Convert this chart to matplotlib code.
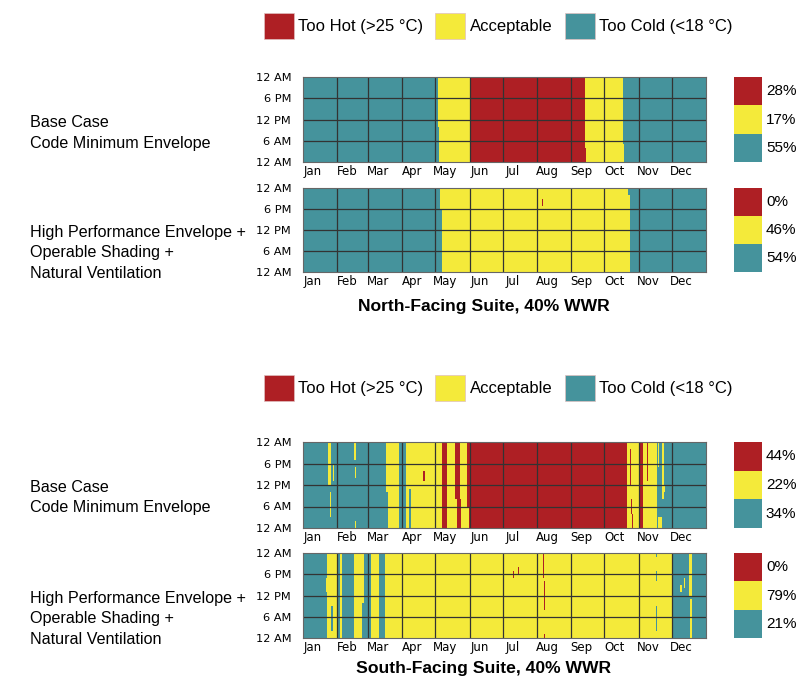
import numpy as np
import matplotlib.pyplot as plt
from matplotlib.colors import ListedColormap
from matplotlib.patches import Patch

W, H = 804, 681

categories = ['Too Hot (>25 °C)', 'Acceptable', 'Too Cold (<18 °C)']
colors = ['#ae1f24', '#f4ea3a', '#45939c']
HOT, OK, COLD = 0, 1, 2

months = ['Jan', 'Feb', 'Mar', 'Apr', 'May', 'Jun',
          'Jul', 'Aug', 'Sep', 'Oct', 'Nov', 'Dec']
month_start = [0, 31, 59, 90, 120, 151, 181, 212, 243, 273, 304, 334]
hour_ticks = [0, 6, 12, 18, 24]
hour_labels = ['12 AM', '6 AM', '12 PM', '6 PM', '12 AM']

# day runs over the whole day: (first day, end day, category)
# spots: (first day, end day, first hour, end hour, category)
north_base_runs = [(0, 122, COLD), (122, 151, OK), (151, 255, HOT),
                   (255, 289, OK), (289, 365, COLD)]
north_base_spots = [(122, 123, 0, 10, COLD), (151, 152, 0, 11, OK),
                    (255, 256, 0, 4, HOT), (289, 290, 0, 5, OK)]
north_base_pct = [28, 17, 55]

north_hp_runs = [(0, 124, COLD), (124, 295, OK), (295, 365, COLD)]
north_hp_spots = [(124, 126, 0, 18, COLD), (294, 295, 22, 24, COLD),
                  (216, 217, 19, 21, HOT)]
north_hp_pct = [0, 46, 54]

south_base_runs = [(0, 23, COLD), (23, 25, COLD), (25, 75, COLD),
                   (75, 87, OK), (87, 93, COLD), (93, 126, OK),
                   (126, 130, HOT), (130, 137, OK), (137, 142, HOT),
                   (142, 148, OK), (148, 293, HOT), (293, 304, OK),
                   (304, 307, HOT), (307, 320, OK), (320, 365, COLD)]
south_base_spots = [(23, 25, 12, 24, OK), (24, 25, 3, 10, OK),
                    (27, 28, 13, 18, OK), (46, 48, 19, 24, OK),
                    (47, 48, 14, 17, OK), (47, 48, 0, 2, OK),
                    (75, 77, 0, 10, COLD), (96, 98, 0, 11, COLD),
                    (108, 110, 13, 16, HOT), (139, 143, 0, 8, HOT),
                    (137, 139, 0, 8, OK), (148, 150, 0, 6, OK),
                    (295, 296, 12, 22, HOT), (296, 297, 4, 8, HOT),
                    (297, 298, 0, 4, HOT), (311, 312, 13, 24, HOT),
                    (321, 322, 17, 24, OK), (324, 326, 8, 24, OK),
                    (326, 327, 10, 12, OK), (321, 324, 0, 3, OK)]
south_base_pct = [44, 22, 34]

south_hp_runs = [(0, 22, COLD), (22, 31, OK), (31, 33, COLD),
                 (33, 35, OK), (35, 46, COLD), (46, 55, OK),
                 (55, 61, COLD), (61, 69, OK), (69, 74, COLD),
                 (74, 334, OK), (334, 365, COLD)]
south_hp_spots = [(21, 22, 13, 17, OK), (25, 27, 2, 9, COLD),
                  (53, 55, 0, 10, COLD), (190, 191, 17, 19, HOT),
                  (194, 195, 18, 20, HOT), (217, 218, 17, 24, HOT),
                  (218, 219, 8, 16, HOT), (218, 219, 0, 1, HOT),
                  (319, 320, 23, 24, COLD), (319, 320, 16, 19, COLD),
                  (319, 320, 2, 9, COLD), (349, 351, 12, 24, OK),
                  (350, 351, 0, 11, OK), (341, 342, 13, 15, OK),
                  (344, 345, 14, 17, OK)]
south_hp_pct = [0, 79, 21]

label_base = 'Base Case\nCode Minimum Envelope'
label_hp = 'High Performance Envelope +\nOperable Shading +\nNatural Ventilation'
title_north = 'North-Facing Suite, 40% WWR'
title_south = 'South-Facing Suite, 40% WWR'

plt.rcParams['font.family'] = ['Liberation Sans', 'DejaVu Sans']
cmap = ListedColormap(colors)


def build(runs, spots):
    grid = np.full((24, 365), COLD)
    for d0, d1, c in runs:
        grid[:, d0:d1] = c
    for d0, d1, h0, h1, c in spots:
        grid[h0:h1, d0:d1] = c
    return grid


def ax_px(x, y, w, h):
    return fig.add_axes([x / W, 1 - (y + h) / H, w / W, h / H])


def heatmap(y, h, runs, spots, pct):
    ax = ax_px(303, y, 403, h)
    ax.imshow(build(runs, spots), cmap=cmap, vmin=0, vmax=2, origin='lower',
              extent=(0, 365, 0, 24), aspect='auto', interpolation='nearest')
    ax.vlines(month_start[1:], 0, 24, color='#333333', lw=0.9)
    ax.hlines([6, 12, 18], 0, 365, color='#333333', lw=0.9)
    ax.set_xlim(0, 365)
    ax.set_ylim(0, 24)
    ax.set_xticks([m + 9 for m in month_start])
    ax.set_xticklabels(months, family='DejaVu Sans', fontsize=8.5)
    ax.set_yticks(hour_ticks)
    ax.set_yticklabels(hour_labels, family='DejaVu Sans', fontsize=8.2)
    ax.tick_params(length=0)
    ax.tick_params(axis='x', pad=2)
    ax.tick_params(axis='y', pad=8.5)
    for s in ax.spines.values():
        s.set_color('#666666')
        s.set_linewidth(0.8)

    bx = ax_px(734, y, 28, h)
    bx.bar([0.5, 0.5, 0.5], [1, 1, 1], bottom=[2, 1, 0], width=1,
           color=colors)
    for i, p in enumerate(pct):
        bx.text(1.14, 2.5 - i, f'{p}%', va='center', ha='left',
                fontsize=11, clip_on=False)
    bx.set_xlim(0, 1)
    bx.set_ylim(0, 3)
    bx.axis('off')


def legend(yc):
    handles = [Patch(facecolor=c, edgecolor='#e0c0c0', lw=0.5) for c in colors]
    fig.legend(handles, categories, loc='center', ncol=3, frameon=False,
               bbox_to_anchor=(498 / W, 1 - yc / H), fontsize=12,
               handlelength=1.8, handleheight=1.97, handletextpad=0.25,
               columnspacing=0.75)


def side_label(yc, text):
    fig.text(30 / W, 1 - yc / H, text, va='center', fontsize=11.6,
             linespacing=1.45)


fig = plt.figure(figsize=(W / 100, H / 100), dpi=100)

legend(26)
heatmap(77, 85, north_base_runs, north_base_spots, north_base_pct)
heatmap(188, 84, north_hp_runs, north_hp_spots, north_hp_pct)
side_label(133, label_base)
side_label(253, label_hp)
fig.text(484 / W, 1 - 307 / H, title_north, ha='center', va='center',
         fontsize=12.6, fontweight='bold')

legend(388)
heatmap(442, 86, south_base_runs, south_base_spots, south_base_pct)
heatmap(553, 85, south_hp_runs, south_hp_spots, south_hp_pct)
side_label(497.5, label_base)
side_label(619, label_hp)
fig.text(484 / W, 1 - 669 / H, title_south, ha='center', va='center',
         fontsize=12.6, fontweight='bold')

fig.savefig('out.png', dpi=100)
